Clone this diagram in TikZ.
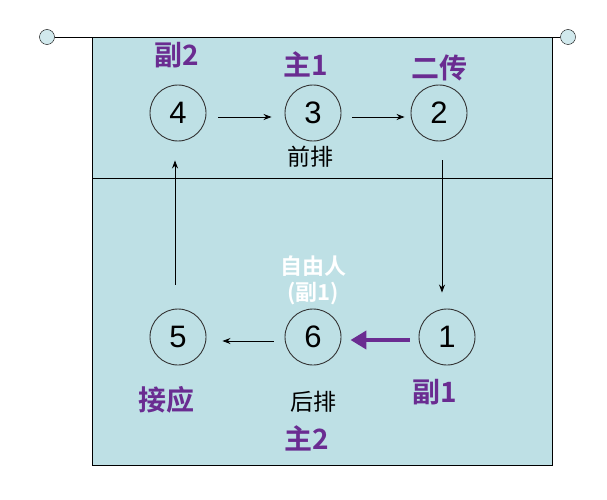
\documentclass[tikz,border=0pt]{standalone}
\usepackage{fontspec}
\setmainfont{Liberation Sans}
\newfontfamily\cjk{Noto Sans CJK SC}
\newfontfamily\cjkbold{Noto Sans CJK SC Bold}
\usetikzlibrary{arrows.meta}
\definecolor{court}{RGB}{190,224,229}
\definecolor{pen}{RGB}{106,44,145}
\tikzset{
  spot/.style={circle,draw=black!80,line width=0.9pt,minimum size=56pt,inner sep=0pt,font=\fontsize{31}{31}\selectfont},
  move/.style={-{Stealth[length=8pt,width=6pt]},line width=0.8pt},
  note/.style={text=pen,font=\cjkbold\fontsize{28}{28}\selectfont},
  row/.style={font=\cjk\fontsize{23}{23}\selectfont}
}
\begin{document}
\begin{tikzpicture}[x=1pt,y=-1pt]
  % Canvas
  \useasboundingbox (0,0) rectangle (607,500);

  % Court and middle line
  \fill[court] (92,37) rectangle (552,465);
  \draw[thick] (92,37) rectangle (552,465);
  \draw[line width=0.8pt] (92,178) -- (552,178);

  % Net with posts
  \node (postL) [circle,draw,fill=court!70,minimum size=15pt,inner sep=0pt] at (47,37) {};
  \node (postR) [circle,draw,fill=court!70,minimum size=15pt,inner sep=0pt] at (568,37) {};
  \draw[thick] (postL) -- (postR);

  % Positions
  \node (p4) [spot] at (178,113) {4};
  \node (p3) [spot] at (313,113) {3};
  \node (p2) [spot] at (439,113) {2};
  \node (p5) [spot] at (178,337) {5};
  \node (p6) [spot] at (313,337) {6};
  \node (p1) [spot] at (447,337) {1};

  % Rotation
  \draw[move] ([xshift=12pt,yshift=-4pt]p4.east) -- ([xshift=-13pt,yshift=-4pt]p3.west);
  \draw[move] ([xshift=11pt,yshift=-4pt]p3.east) -- ([xshift=-6pt,yshift=-4pt]p2.west);
  \draw[move] ([xshift=3pt,yshift=-19pt]p2.south) -- ([xshift=-5pt,yshift=16pt]p1.north);
  \draw[move] ([xshift=-11pt,yshift=-4pt]p6.west) -- ([xshift=16pt,yshift=-4pt]p5.east);
  \draw[move] ([xshift=-3pt,yshift=24pt]p5.north) -- ([xshift=-3pt,yshift=-19pt]p4.south);
  \draw[pen,line width=4pt,-{Triangle[length=16pt,width=18pt]}] ([xshift=-9pt,yshift=-3pt]p1.west) -- ([xshift=9pt,yshift=-3pt]p6.east);

  % Row names
  \node (front) [row] at (310,157) {前排};
  \node (back) [row] at (313,402) {后排};

  % Handwritten roles
  \node (r4) [note] at (177,55) {副2};
  \node (r3) [note] at (306,64) {主1};
  \node (r2) [note] at (439,68) {二传};
  \node (r5) [note] at (166,400) {接应};
  \node (r6) [note] at (307,438) {主2};
  \node (r1) [note] at (435,392) {副1};
  \node (libero) [text=white,font=\cjkbold\fontsize{22}{26}\selectfont,align=center] at (313,280) {自由人\\(副1)};
\end{tikzpicture}
\end{document}
